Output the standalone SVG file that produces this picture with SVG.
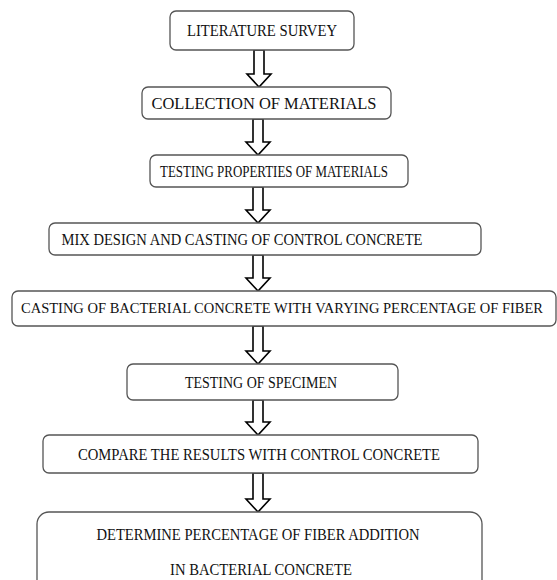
<svg xmlns="http://www.w3.org/2000/svg" width="557" height="580" viewBox="0 0 557 580" font-family="'Liberation Serif', 'Times New Roman', serif">
<style>
.box{fill:#fff;stroke:#555;stroke-width:1.3}
.arr{fill:#fff;stroke:#000;stroke-width:1.6;stroke-linejoin:miter}
text{font-family:'Liberation Serif','Times New Roman',serif;font-size:16px;fill:#111}
</style>
<rect width="557" height="580" fill="#fff"/>
<g id="connectors">
<path class="arr" d="M254,50 V74 H247 L259,87 L271,74 H264 V50 Z"/>
<path class="arr" d="M253,119 V142 H246 L258,155 L270,142 H263 V119 Z"/>
<path class="arr" d="M253,187 V210 H246 L258,223 L270,210 H263 V187 Z"/>
<path class="arr" d="M253,255 V278 H246 L258,291 L270,278 H263 V255 Z"/>
<path class="arr" d="M253,326 V351 H246 L258,364 L270,351 H263 V326 Z"/>
<path class="arr" d="M253,400 V422 H246 L258,435 L270,422 H263 V400 Z"/>
<path class="arr" d="M253,473 V499 H246 L258,512 L270,499 H263 V473 Z"/>
</g>
<g id="n1"><rect class="box" x="170" y="11" width="184" height="39" rx="6"/>
<text x="262" y="36" text-anchor="middle" textLength="150" lengthAdjust="spacingAndGlyphs">LITERATURE SURVEY</text></g>
<g id="n2"><rect class="box" x="142" y="87" width="249" height="32" rx="6"/>
<text x="264" y="109" text-anchor="middle" textLength="225" lengthAdjust="spacingAndGlyphs">COLLECTION OF MATERIALS</text></g>
<g id="n3"><rect class="box" x="150" y="155" width="258" height="32" rx="6"/>
<text x="274" y="177" text-anchor="middle" textLength="228" lengthAdjust="spacingAndGlyphs">TESTING PROPERTIES OF MATERIALS</text></g>
<g id="n4"><rect class="box" x="49" y="223" width="432" height="32" rx="6"/>
<text x="242" y="245" text-anchor="middle" textLength="361" lengthAdjust="spacingAndGlyphs">MIX DESIGN AND CASTING OF CONTROL CONCRETE</text></g>
<g id="n5"><rect class="box" x="12" y="291" width="544" height="35" rx="6"/>
<text x="282" y="313" text-anchor="middle" style="font-size:14.5px" textLength="522" lengthAdjust="spacingAndGlyphs">CASTING OF BACTERIAL CONCRETE WITH VARYING PERCENTAGE OF FIBER</text></g>
<g id="n6"><rect class="box" x="127" y="364" width="271" height="36" rx="6"/>
<text x="261" y="388" text-anchor="middle" textLength="152" lengthAdjust="spacingAndGlyphs">TESTING OF SPECIMEN</text></g>
<g id="n7"><rect class="box" x="43" y="435" width="435" height="38" rx="6"/>
<text x="259" y="460" text-anchor="middle" textLength="362" lengthAdjust="spacingAndGlyphs">COMPARE THE RESULTS WITH CONTROL CONCRETE</text></g>
<g id="n8"><rect class="box" x="37" y="512" width="445" height="80" rx="12"/>
<text x="258" y="540" text-anchor="middle" textLength="323" lengthAdjust="spacingAndGlyphs">DETERMINE PERCENTAGE OF FIBER ADDITION</text>
<text x="261" y="575" text-anchor="middle" textLength="182" lengthAdjust="spacingAndGlyphs">IN BACTERIAL CONCRETE</text></g>
</svg>
